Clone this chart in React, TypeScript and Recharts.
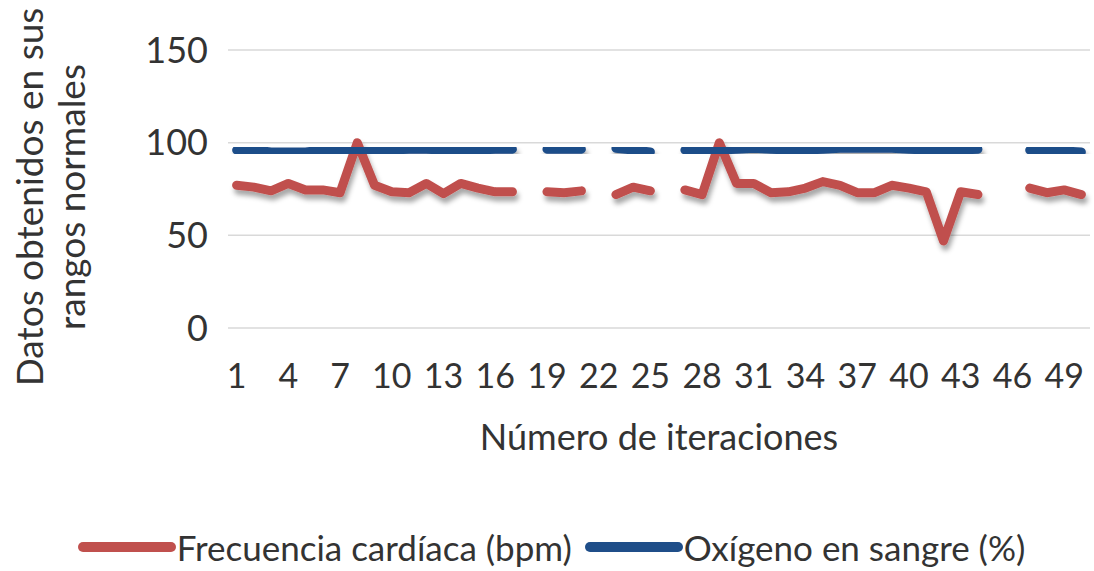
import { CartesianGrid, Line, LineChart, XAxis, YAxis } from "recharts";

const iteraciones = [
  "1", "2", "3", "4", "5", "6", "7", "8", "9", "10",
  "11", "12", "13", "14", "15", "16", "17", "18", "19", "20",
  "21", "22", "23", "24", "25", "26", "27", "28", "29", "30",
  "31", "32", "33", "34", "35", "36", "37", "38", "39", "40",
  "41", "42", "43", "44", "45", "46", "47", "48", "49", "50"
];

// null = no reading for that iteration (Excel leaves a gap)
const frecuencia = [
  77, 76, 74, 78, 74.5, 74.5, 73, 100, 77, 73.5,
  73, 78, 72.5, 78, 75.5, 73.5, 73.5, null, 73.5, 73,
  74, null, 72, 76, 74, null, 74.5, 72, 100, 78,
  78, 73, 73.5, 75.5, 79, 77, 73, 73, 77, 75.5,
  73.5, 47, 73.5, 72, null, null, 75.5, 73, 74.5, 72
];

const oxigeno = [
  96, 96, 95, 95, 95, 96, 96, 96, 96, 96,
  96.5, 96.5, 96, 96, 96, 96.5, 96.5, null, 96.5, 96.5,
  96.5, null, 97, 96, 95, null, 96, 95.5, 96, 96.5,
  97, 96.5, 96, 96, 96.5, 97, 97, 97, 97, 96.5,
  96, 96.5, 96, 96.5, null, null, 96, 96, 95.5, 95
];

const yTicks = [0, 50, 100, 150];

const series = [
  { key: "frecuencia", name: "Frecuencia cardíaca (bpm)", color: "#C0504D" },
  { key: "oxigeno", name: "Oxígeno en sangre (%)", color: "#1F4E89" }
];

const data = iteraciones.map((it, i) => ({
  it,
  frecuencia: frecuencia[i],
  oxigeno: oxigeno[i]
}));

const font = "Lato, 'Open Sans', sans-serif";
const textColor = "#333333";

function YTitle({ viewBox }: any) {
  const cy = viewBox.y + viewBox.height / 2 + 8;
  return (
    <g fontFamily={font} fontSize={37} fill={textColor} textAnchor="middle">
      <text transform={`translate(43, ${cy}) rotate(-90)`}>Datos obtenidos en sus</text>
      <text transform={`translate(85, ${cy}) rotate(-90)`}>rangos normales</text>
    </g>
  );
}

function XTitle({ viewBox }: any) {
  return (
    <text x={viewBox.x + viewBox.width / 2} y={450} fontFamily={font} fontSize={36} fill={textColor} textAnchor="middle">
      Número de iteraciones
    </text>
  );
}

export default function App() {
  return (
    <div style={{ position: "absolute", left: 0, top: 0, width: 1094, height: 571, background: "#fff" }}>
      <LineChart width={1094} height={571} data={data} margin={{ top: 50, right: 4, bottom: 0, left: 0 }}>
        <defs>
          <filter id="sombra" x="-5%" y="-20%" width="110%" height="160%">
            <feDropShadow dx="2" dy="5" stdDeviation="2.5" floodColor="#000" floodOpacity="0.35" />
          </filter>
        </defs>
        <CartesianGrid vertical={false} stroke="#D9D9D9" strokeWidth={1.5} />
        <XAxis
          dataKey="it"
          interval={2}
          height={243}
          padding={{ left: 8.6, right: 8.6 }}
          axisLine={false}
          tickLine={false}
          tickSize={6}
          tickMargin={30}
          tick={{ fontFamily: font, fontSize: 34, fill: textColor }}
          label={<XTitle />}
        />
        <YAxis
          width={228}
          domain={[0, 150]}
          ticks={yTicks}
          axisLine={false}
          tickLine={false}
          tickSize={6}
          tickMargin={14}
          tick={{ fontFamily: font, fontSize: 36, fill: textColor }}
          label={<YTitle />}
        />
        {series.map((s) => (
          <Line
            key={s.key}
            dataKey={s.key}
            name={s.name}
            stroke={s.color}
            strokeWidth={9}
            strokeLinecap="round"
            strokeLinejoin="round"
            dot={false}
            activeDot={false}
            filter="url(#sombra)"
            isAnimationActive={false}
          />
        ))}
      </LineChart>
      <div
        style={{
          position: "absolute",
          left: 0,
          top: 526,
          width: 1094,
          display: "flex",
          justifyContent: "center",
          gap: 4,
          fontFamily: font,
          fontSize: 35,
          color: textColor
        }}
      >
        {series.map((s) => (
          <div key={s.key} style={{ display: "flex", alignItems: "center", marginLeft: 8 }}>
            <svg width={100} height={14}>
              <line x1={6} y1={7} x2={94} y2={7} stroke={s.color} strokeWidth={10} strokeLinecap="round" />
            </svg>
            <span>{s.name}</span>
          </div>
        ))}
      </div>
    </div>
  );
}
